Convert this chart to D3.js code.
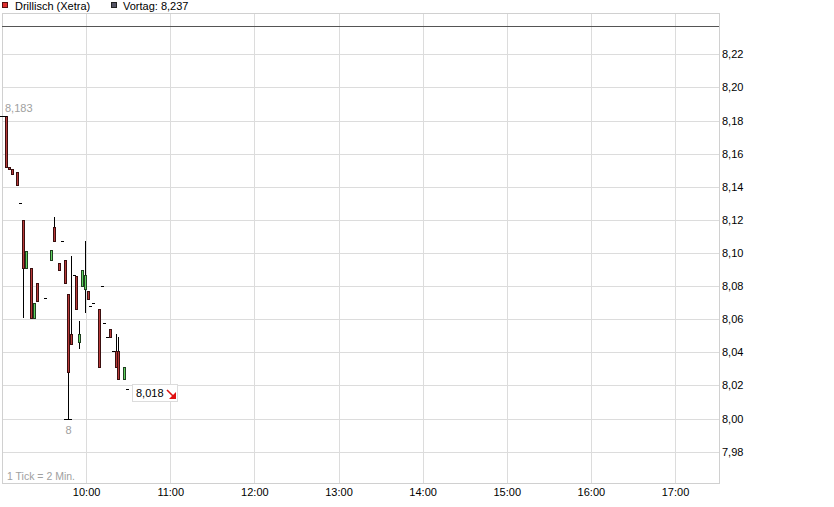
<!DOCTYPE html>
<html>
<head>
<meta charset="utf-8">
<script src="https://cdn.jsdelivr.net/npm/d3@7"></script>
<style>
  body { margin: 0; background: #fff; }
  svg { display: block; font-family: "Liberation Sans", Arial, sans-serif; }
</style>
</head>
<body>
<svg id="chart" width="834" height="507"></svg>
<script>
// 2-minute candles, Drillisch (Xetra)
const times  = ["09:00","09:02","09:04","09:06","09:10","09:12","09:14","09:16","09:20","09:22","09:24","09:30",
                "09:34","09:36","09:40","09:42","09:44","09:46","09:48","09:50","09:52","09:54","09:56","09:58",
                "10:00","10:02","10:04","10:08","10:10","10:12","10:14","10:16","10:18","10:20","10:22","10:26","10:28"];
const opens  = [8.183,8.183,8.152,8.151,8.149,8.130,8.120,8.091,8.091,8.061,8.082,8.073,
                8.096,8.116,8.094,8.107,8.096,8.075,8.051,8.087,8.086,8.046,8.080,8.078,
                8.077,8.068,8.070,8.066,8.080,8.058,8.049,8.054,8.041,8.041,8.041,8.024,8.018];
const highs  = [8.183,8.183,8.152,8.151,8.149,8.130,8.120,8.101,8.091,8.070,8.082,8.073,
                8.102,8.122,8.094,8.107,8.096,8.075,8.098,8.087,8.086,8.059,8.090,8.107,
                8.077,8.068,8.070,8.066,8.080,8.058,8.049,8.054,8.041,8.051,8.049,8.031,8.018];
const lows   = [8.183,8.152,8.151,8.148,8.141,8.130,8.061,8.091,8.061,8.061,8.071,8.073,
                8.096,8.107,8.090,8.107,8.082,8.000,8.045,8.087,8.066,8.042,8.080,8.064,
                8.072,8.068,8.070,8.031,8.080,8.058,8.049,8.049,8.041,8.031,8.024,8.024,8.018];
const closes = [8.183,8.152,8.151,8.148,8.141,8.130,8.091,8.101,8.061,8.070,8.071,8.073,
                8.102,8.107,8.090,8.107,8.082,8.028,8.045,8.087,8.066,8.051,8.090,8.087,
                8.072,8.068,8.070,8.031,8.080,8.058,8.049,8.049,8.041,8.031,8.024,8.031,8.018];

const previousClose = 8.237;
const priceTicks = [7.98,8.00,8.02,8.04,8.06,8.08,8.10,8.12,8.14,8.16,8.18,8.20,8.22];
const hourTicks = ["10:00","11:00","12:00","13:00","14:00","15:00","16:00","17:00"];

const toMin = s => { const [h, m] = s.split(":").map(Number); return (h - 9) * 60 + m; };

const de = d3.formatLocale({ decimal: ",", thousands: ".", grouping: [3], currency: ["", " €"] });
const fmt2 = de.format(".2f");
const fmt3 = de.format(".3f");
const fmtTrim = de.format(".3~f");

const plot = { left: 2, right: 719, top: 13, bottom: 483.5 };

const svg = d3.select("#chart");

const x = d3.scaleLinear().domain([0, 480]).range([2, 675]);
const y = d3.scaleLinear().domain([7.98, 8.22]).range([451.7, 54.3]);

const candles = times.map((t, i) => ({
  t: toMin(t), o: opens[i], h: highs[i], l: lows[i], c: closes[i]
}));

// grid
const grid = svg.append("g");
grid.selectAll(".hg")
  .data(priceTicks)
  .enter().append("line")
  .attr("x1", plot.left).attr("x2", plot.right)
  .attr("y1", d => Math.round(y(d)) + 0.5).attr("y2", d => Math.round(y(d)) + 0.5)
  .attr("stroke", "#dcdcdc");
grid.selectAll(".vg")
  .data(hourTicks)
  .enter().append("line")
  .attr("x1", d => Math.round(x(toMin(d))) + 0.5).attr("x2", d => Math.round(x(toMin(d))) + 0.5)
  .attr("y1", plot.top).attr("y2", plot.bottom)
  .attr("stroke", "#dcdcdc");

svg.append("rect")
  .attr("x", plot.left + 0.5).attr("y", plot.top + 0.5)
  .attr("width", plot.right - plot.left).attr("height", plot.bottom - plot.top - 0.5)
  .attr("fill", "none").attr("stroke", "#d0d0d0");

// previous close line
svg.append("line")
  .attr("x1", plot.left).attr("x2", plot.right)
  .attr("y1", Math.round(y(previousClose)) + 0.5).attr("y2", Math.round(y(previousClose)) + 0.5)
  .attr("stroke", "#555");

// axes
const yAxis = svg.append("g")
  .attr("transform", `translate(${plot.right},0)`)
  .call(d3.axisRight(y).tickValues(priceTicks).tickSize(0).tickPadding(3).tickFormat(fmt2));
yAxis.select(".domain").remove();
yAxis.selectAll("text").attr("font-size", 11).attr("fill", "#000")
  .attr("font-family", "Liberation Sans, Arial, sans-serif");

const xAxis = svg.append("g")
  .attr("transform", `translate(0,${plot.bottom})`)
  .call(d3.axisBottom(x).tickValues(hourTicks.map(toMin)).tickSize(0).tickPadding(5)
    .tickFormat(d => d3.format("02")(Math.floor(d / 60) + 9) + ":" + d3.format("02")(d % 60)));
xAxis.select(".domain").remove();
xAxis.selectAll("text").attr("font-size", 11).attr("fill", "#000")
  .attr("font-family", "Liberation Sans, Arial, sans-serif");

// candles
const cx = d => Math.round(x(d.t + 1));
const g = svg.append("g");

g.selectAll(".wick")
  .data(candles.filter(d => d.h > d.l))
  .enter().append("line")
  .attr("x1", d => cx(d) + 0.5).attr("x2", d => cx(d) + 0.5)
  .attr("y1", d => Math.round(y(d.h))).attr("y2", d => Math.round(y(d.l)))
  .attr("stroke", "#000");

g.selectAll(".body")
  .data(candles.filter(d => d.o !== d.c))
  .enter().append("rect")
  .attr("x", d => cx(d) - 1 + 0.5)
  .attr("y", d => Math.round(y(Math.max(d.o, d.c))) + 0.5)
  .attr("width", 2)
  .attr("height", d => Math.max(1, Math.round(y(Math.min(d.o, d.c))) - Math.round(y(Math.max(d.o, d.c)))))
  .attr("fill", d => d.c > d.o ? "#5fd35f" : "#b83a3a")
  .attr("stroke", d => d.c > d.o ? "#1f3f1f" : "#3a0f0f");

g.selectAll(".doji")
  .data(candles.filter(d => d.o === d.c))
  .enter().append("line")
  .attr("x1", d => cx(d) - 1).attr("x2", d => cx(d) + 2)
  .attr("y1", d => Math.round(y(d.c)) + 0.5).attr("y2", d => Math.round(y(d.c)) + 0.5)
  .attr("stroke", "#000");

// day high / low markers
const hi = candles[d3.maxIndex(candles, d => d.h)];
const lo = candles[d3.minIndex(candles, d => d.l)];

[hi, lo].forEach(d => {
  const v = d === hi ? d.h : d.l;
  svg.append("line")
    .attr("x1", cx(d) - 4).attr("x2", cx(d) + 4)
    .attr("y1", Math.round(y(v)) + 0.5).attr("y2", Math.round(y(v)) + 0.5)
    .attr("stroke", "#000");
});

svg.append("text")
  .attr("x", Math.max(cx(hi) - 14, plot.left + 3))
  .attr("y", y(hi.h) - 4)
  .attr("font-size", 11).attr("fill", "#a0a0a0")
  .text(fmtTrim(hi.h));

svg.append("text")
  .attr("x", cx(lo) + 0.5)
  .attr("y", y(lo.l) + 15)
  .attr("text-anchor", "middle")
  .attr("font-size", 11).attr("fill", "#a0a0a0")
  .text(fmtTrim(lo.l));

// last price box
const last = candles[candles.length - 1];
const bx = cx(last) + 5, by = Math.round(y(last.c)) - 5;
const lastBox = svg.append("g").attr("transform", `translate(${bx},${by})`);
lastBox.append("rect")
  .attr("x", 0.5).attr("y", 0.5).attr("width", 45).attr("height", 17)
  .attr("fill", "#fff").attr("stroke", "#dcdcdc");
lastBox.append("text")
  .attr("x", 4).attr("y", 13)
  .attr("font-size", 11).attr("fill", "#000")
  .text(fmt3(last.c));
lastBox.append("line")
  .attr("x1", 35).attr("y1", 6).attr("x2", 41).attr("y2", 12)
  .attr("stroke", "#e01010").attr("stroke-width", 1.6);
lastBox.append("path")
  .attr("d", "M44,15 L44,8 L37,15 Z")
  .attr("fill", "#e01010");

// legend
const legend = svg.append("g");
legend.append("rect").attr("x", 2.5).attr("y", 2.5).attr("width", 5).attr("height", 5)
  .attr("fill", "#e03030").attr("stroke", "#551111");
legend.append("text").attr("x", 15).attr("y", 10).attr("font-size", 11).text("Drillisch (Xetra)");
legend.append("rect").attr("x", 111.5).attr("y", 2.5).attr("width", 5).attr("height", 5)
  .attr("fill", "#555566").attr("stroke", "#222");
legend.append("text").attr("x", 123).attr("y", 10).attr("font-size", 11)
  .text("Vortag: " + fmt3(previousClose));

svg.append("text")
  .attr("x", 7).attr("y", 480)
  .attr("font-size", 10.5).attr("fill", "#a0a0a0")
  .text("1 Tick = 2 Min.");
</script>
</body>
</html>
